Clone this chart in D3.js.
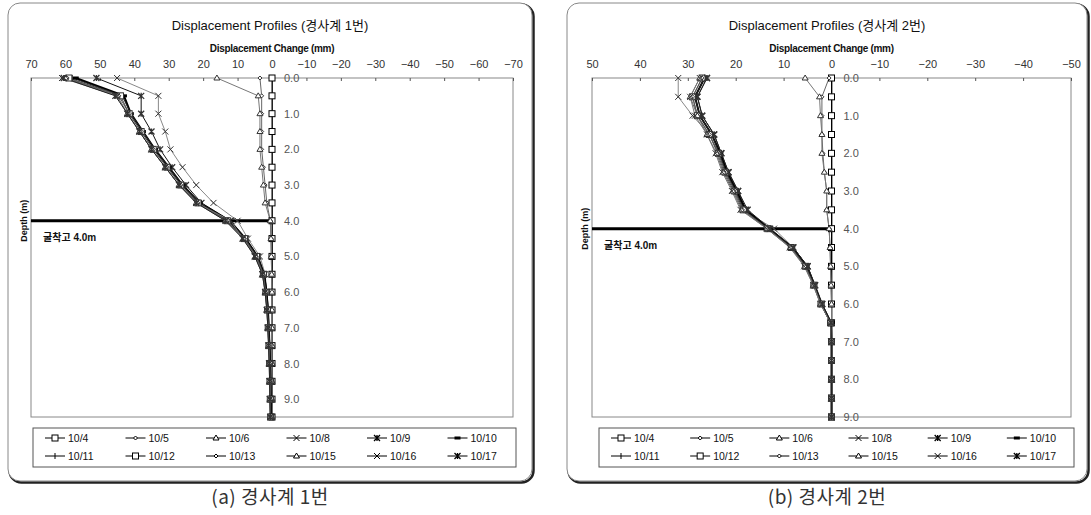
<!DOCTYPE html>
<html>
<head>
<meta charset="utf-8">
<script src="https://cdn.jsdelivr.net/npm/d3@7"></script>
<style>
  body { margin: 0; background: #fff; }
  svg { display: block; font-family: "Liberation Sans", "Noto Sans CJK KR", sans-serif; }
</style>
</head>
<body>
<svg width="1091" height="515"></svg>
<script>
// dates of the readings (legend order)
const dates = ["10/4", "10/5", "10/6", "10/8", "10/9", "10/10",
               "10/11", "10/12", "10/13", "10/15", "10/16", "10/17"];

// depth of the readings, m
const depths1 = [0, 0.5, 1, 1.5, 2, 2.5, 3, 3.5, 4, 4.5, 5, 5.5, 6, 6.5, 7, 7.5, 8, 8.5, 9, 9.5];
const depths2 = [0, 0.5, 1, 1.5, 2, 2.5, 3, 3.5, 4, 4.5, 5, 5.5, 6, 6.5, 7, 7.5, 8, 8.5, 9];

// displacement, mm - inclinometer no.1 (one row per date)
const disp1 = [
  [0, 0, 0, 0, 0, 0, 0, 0, 0, 0, 0, 0, 0, 0, 0, 0, 0, 0, 0, 0],
  [3.5, 3, 3, 3, 3, 2.5, 2, 1.5, 0.5, 0.3, 0.2, 0.1, 0, 0, 0, 0, 0, 0, 0, 0],
  [16, 4, 3.5, 3.5, 3.5, 3, 2.5, 2, 0.5, 0.3, 0.2, 0.1, 0, 0, 0, 0, 0, 0, 0, 0],
  [45, 33, 33, 31, 29.5, 26, 22, 17, 10, 7, 3.5, 2, 1.5, 1, 0.8, 0.5, 0.3, 0.2, 0.1, 0],
  [51, 38, 38, 35, 32.5, 29, 25, 20.5, 12, 7.5, 4, 2.2, 1.5, 1.1, 0.9, 0.6, 0.4, 0.3, 0.2, 0.1],
  [57, 43, 41, 37.5, 34, 30, 26, 21, 12.5, 7.8, 4.3, 2.3, 1.6, 1.2, 1, 0.8, 0.6, 0.5, 0.4, 0.3],
  [58, 43.5, 41, 37.5, 34, 30, 26, 21, 12.5, 7.8, 4.3, 2.4, 1.7, 1.3, 1, 0.8, 0.6, 0.5, 0.4, 0.3],
  [59, 44, 41.5, 38, 34.5, 30.5, 26.5, 21.5, 13, 8, 4.5, 2.5, 1.8, 1.3, 1.1, 0.9, 0.7, 0.6, 0.5, 0.4],
  [59.5, 44.5, 41.5, 38, 34.5, 30.5, 26.5, 21.5, 13, 8, 4.6, 2.6, 1.9, 1.4, 1.1, 0.9, 0.7, 0.6, 0.5, 0.4],
  [60, 45, 42, 38.5, 35, 31, 27, 22, 13.5, 8.3, 4.8, 2.7, 2, 1.5, 1.2, 1, 0.8, 0.7, 0.6, 0.5],
  [61, 45, 42, 38.5, 35, 31, 27, 22, 12, 8.5, 5, 2.8, 2, 1.5, 1.2, 1, 0.8, 0.7, 0.6, 0.5],
  [60.5, 45.5, 42, 38.5, 35, 31, 27, 22, 13.5, 8.5, 5, 2.8, 2, 1.5, 1.2, 1, 0.8, 0.7, 0.6, 0.5]
];

// displacement, mm - inclinometer no.2
const disp2 = [
  [0, 0, 0, 0, 0, 0, 0, 0, 0, 0, 0, 0, 0, 0, 0, 0, 0, 0, 0],
  [0.5, 2, 2, 2, 1.8, 1.5, 1, 1, 0.5, 0.3, 0.2, 0.1, 0, 0, 0, 0, 0, 0, 0],
  [5.5, 2.5, 2.3, 2, 2, 1.5, 1, 1, 0.5, 0.3, 0.2, 0.1, 0, 0, 0, 0, 0, 0, 0],
  [32, 32, 29, 25.5, 23.5, 22, 20, 18.5, 12, 8, 5, 3.5, 2, 0, 0, 0, 0, 0, 0],
  [26, 28, 27, 24.5, 23, 21.5, 19.5, 17.8, 13, 8, 5, 3.5, 2, 0.1, 0, 0, 0, 0, 0],
  [26.5, 28.5, 27.5, 25, 23.2, 21.8, 19.8, 18, 13, 8.2, 5.2, 3.6, 2.1, 0.1, 0, 0, 0, 0, 0],
  [26.5, 28.5, 27.5, 25, 23.4, 22, 20, 18.2, 13.2, 8.3, 5.3, 3.6, 2.1, 0.1, 0, 0, 0, 0, 0],
  [27, 29, 28, 25.5, 23.6, 22.2, 20.2, 18.4, 13.3, 8.4, 5.4, 3.7, 2.2, 0.2, 0, 0, 0, 0, 0],
  [27, 29, 28, 25.5, 23.8, 22.4, 20.4, 18.6, 13.4, 8.5, 5.5, 3.7, 2.2, 0.2, 0, 0, 0, 0, 0],
  [27.5, 29.5, 28, 26, 24, 22.6, 20.6, 18.8, 13.5, 8.6, 5.6, 3.8, 2.3, 0.2, 0, 0, 0, 0, 0],
  [27.5, 29.5, 28.5, 26, 24.2, 22.8, 20.8, 19, 13.5, 8.7, 5.7, 3.8, 2.3, 0.2, 0, 0, 0, 0, 0],
  [26, 28, 27, 24.5, 23, 21.5, 19.5, 17.5, 12.8, 8, 5, 3.4, 1.9, 0.1, 0, 0, 0, 0, 0]
];

const xTicks1 = [70, 60, 50, 40, 30, 20, 10, 0, -10, -20, -30, -40, -50, -60, -70];
const xTicks2 = [50, 40, 30, 20, 10, 0, -10, -20, -30, -40, -50];
const yTicks = [0, 1, 2, 3, 4, 5, 6, 7, 8, 9];

// excavation depth
const cutDepth = 4.0;

// line style and marker for each date
const lineColors = ["#000", "#666", "#777", "#888", "#111", "#000",
                    "#222", "#444", "#555", "#666", "#777", "#222"];
const markers = ["square", "diamond", "triangle", "cross", "star", "dash",
                 "plus", "square", "diamond", "triangle", "cross", "star"];

const svg = d3.select("svg");

// draws one marker at (0,0) inside group g
function drawMarker(g, type, color) {
    const s = 3;
    if (type === "square") {
        g.append("rect").attr("x", -s).attr("y", -s).attr("width", 2 * s).attr("height", 2 * s)
         .attr("fill", "#fff").attr("stroke", color).attr("stroke-width", 1);
    } else if (type === "diamond") {
        g.append("path").attr("d", `M0,${-s + 1}L${s - 1},0L0,${s - 1}L${-s + 1},0Z`)
         .attr("fill", "#fff").attr("stroke", color).attr("stroke-width", 1);
    } else if (type === "triangle") {
        g.append("path").attr("d", `M0,${-s}L${s},${s - 1}L${-s},${s - 1}Z`)
         .attr("fill", "#fff").attr("stroke", color).attr("stroke-width", 1);
    } else if (type === "cross") {
        g.append("path").attr("d", `M${-s},${-s}L${s},${s}M${-s},${s}L${s},${-s}`)
         .attr("stroke", color).attr("stroke-width", 1);
    } else if (type === "star") {
        g.append("path").attr("d", `M${-s},${-s}L${s},${s}M${-s},${s}L${s},${-s}M0,${-s}L0,${s}`)
         .attr("stroke", color).attr("stroke-width", 1.3);
    } else if (type === "dash") {
        g.append("rect").attr("x", -s).attr("y", -1.5).attr("width", 2 * s).attr("height", 3)
         .attr("fill", color);
    } else if (type === "plus") {
        g.append("path").attr("d", `M0,${-s}L0,${s}`)
         .attr("stroke", color).attr("stroke-width", 1);
    }
}

// panel: frame, titles, axes, series, legend
function drawPanel(opt) {
    const g = svg.append("g");

    // rounded frame with a dark right/bottom edge
    g.append("rect")
        .attr("x", opt.frame[0] + 1.5).attr("y", opt.frame[1] + 1.5)
        .attr("width", opt.frame[2] - opt.frame[0]).attr("height", opt.frame[3] - opt.frame[1])
        .attr("rx", 12).attr("fill", "none").attr("stroke", "#222").attr("stroke-width", 2.5);
    g.append("rect")
        .attr("x", opt.frame[0]).attr("y", opt.frame[1])
        .attr("width", opt.frame[2] - opt.frame[0]).attr("height", opt.frame[3] - opt.frame[1])
        .attr("rx", 12).attr("fill", "#fff").attr("stroke", "#888").attr("stroke-width", 1);

    const scX = d3.scaleLinear().domain(opt.xDomain).range([opt.box[0], opt.box[2]]);
    const scY = d3.scaleLinear().domain(opt.yDomain).range([opt.box[1], opt.box[3]]);
    const cx = (opt.frame[0] + opt.frame[2]) / 2;

    g.append("text").attr("x", cx).attr("y", 30).attr("text-anchor", "middle")
        .attr("font-size", 13).attr("fill", "#111").text(opt.title);
    g.append("text").attr("x", scX(0)).attr("y", 52).attr("text-anchor", "middle")
        .attr("font-size", 10).attr("font-weight", "bold").attr("letter-spacing", -0.3)
        .attr("fill", "#111").text("Displacement Change (mm)");

    // plot box
    g.append("rect")
        .attr("x", opt.box[0]).attr("y", opt.box[1])
        .attr("width", opt.box[2] - opt.box[0]).attr("height", opt.box[3] - opt.box[1])
        .attr("fill", "none").attr("stroke", "#888").attr("stroke-width", 1);

    // top axis: ticks point into the box, labels above
    const axisX = g.append("g")
        .attr("transform", `translate(0, ${opt.box[1]})`)
        .call(d3.axisBottom(scX).tickValues(opt.xTicks).tickSize(3).tickFormat(d3.format("d")));
    axisX.select(".domain").remove();
    axisX.selectAll("line").attr("stroke", "#555");
    axisX.selectAll("text").attr("y", -18).attr("font-size", 11)
        .attr("fill", "#333").attr("font-family", "Liberation Sans, sans-serif");

    // depth axis at zero
    const axisY = g.append("g")
        .attr("transform", `translate(${scX(0)}, 0)`)
        .call(d3.axisRight(scY).tickValues(yTicks).tickSize(0).tickPadding(12).tickFormat(d3.format(".1f")));
    axisY.select(".domain").attr("stroke", "#444");
    axisY.selectAll("text").attr("font-size", 11).attr("fill", "#555")
        .attr("font-family", "Liberation Sans, sans-serif");

    g.append("text")
        .attr("transform", `translate(${opt.box[0] - 4}, ${scY(4)}) rotate(-90)`)
        .attr("text-anchor", "middle").attr("font-size", 9).attr("font-weight", "bold")
        .attr("fill", "#111").text("Depth (m)");

    // excavation line
    g.append("line")
        .attr("x1", opt.box[0]).attr("x2", scX(0))
        .attr("y1", scY(cutDepth)).attr("y2", scY(cutDepth))
        .attr("stroke", "#000").attr("stroke-width", 3);
    g.append("text").attr("x", opt.box[0] + 12).attr("y", scY(cutDepth) + 20)
        .attr("font-size", 10).attr("font-weight", "bold").attr("fill", "#111")
        .text("굴착고 4.0m");

    // series lines
    const line = d3.line().x(d => scX(d[1])).y(d => scY(d[0]));
    opt.data.forEach((vals, i) => {
        const pts = opt.depths.map((d, k) => [d, vals[k]]);
        g.append("path").datum(pts)
            .attr("fill", "none").attr("stroke", lineColors[i])
            .attr("stroke-width", i === 5 ? 2 : 1)
            .attr("d", line);
    });
    // series markers
    opt.data.forEach((vals, i) => {
        opt.depths.forEach((d, k) => {
            const m = g.append("g").attr("transform", `translate(${scX(vals[k])}, ${scY(d)})`);
            drawMarker(m, markers[i], lineColors[i] === "#000" ? "#000" : "#333");
        });
    });

    // legend
    const lg = opt.legend;
    g.append("rect").attr("x", lg[0]).attr("y", lg[1])
        .attr("width", lg[2] - lg[0]).attr("height", lg[3] - lg[1])
        .attr("fill", "#fff").attr("stroke", "#555").attr("stroke-width", 1);
    const colW = (lg[2] - lg[0]) / 6;
    dates.forEach((name, i) => {
        const x0 = lg[0] + (i % 6) * colW + 12;
        const y0 = lg[1] + 10 + Math.floor(i / 6) * 18;
        g.append("line").attr("x1", x0).attr("x2", x0 + 20).attr("y1", y0).attr("y2", y0)
            .attr("stroke", "#000").attr("stroke-width", 1);
        drawMarker(g.append("g").attr("transform", `translate(${x0 + 10}, ${y0})`), markers[i], "#000");
        g.append("text").attr("x", x0 + 23).attr("y", y0 + 4)
            .attr("font-size", 10.5).attr("fill", "#111").text(name);
    });

    // caption under the frame
    svg.append("text").attr("x", cx).attr("y", 504).attr("text-anchor", "middle")
        .attr("font-size", 19).attr("fill", "#333").attr("letter-spacing", 0.5)
        .attr("font-family", "Noto Sans CJK KR, sans-serif").text(opt.caption);
}

drawPanel({
    frame: [8, 3, 532, 481],
    box: [31, 78, 513, 417],
    legend: [33, 428, 516, 467],
    xDomain: [70, -70], yDomain: [0, 9.5],
    xTicks: xTicks1, depths: depths1, data: disp1,
    title: "Displacement Profiles (경사계 1번)",
    caption: "(a) 경사계 1번"
});

drawPanel({
    frame: [567, 3, 1087, 481],
    box: [592, 78, 1071, 417],
    legend: [599, 428, 1074, 467],
    xDomain: [50, -50], yDomain: [0, 9.0],
    xTicks: xTicks2, depths: depths2, data: disp2,
    title: "Displacement Profiles (경사계 2번)",
    caption: "(b) 경사계 2번"
});
</script>
</body>
</html>
